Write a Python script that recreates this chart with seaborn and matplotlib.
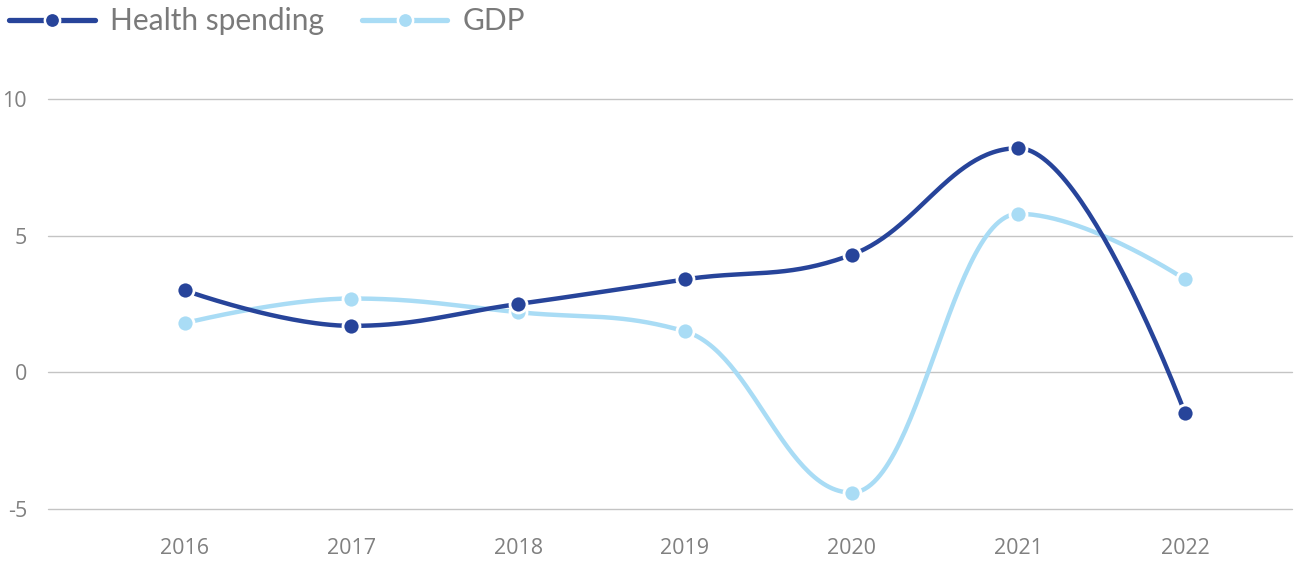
import matplotlib.pyplot as plt
from matplotlib.lines import Line2D
import seaborn as sns
import numpy as np
import pandas as pd

# 데이터
years = ["2016", "2017", "2018", "2019", "2020", "2021", "2022"]
health = [3.0, 1.7, 2.5, 3.4, 4.3, 8.2, -1.5]
gdp = [1.8, 2.7, 2.2, 1.5, -4.4, 5.8, 3.4]

dark = "#27449a"
light = "#a9dcf5"
grey = "#7a7a7a"


def spline(ys, steps=60):
    # Highcharts 식 스플라인 (smoothing 1.5)
    xs = list(range(len(ys)))
    n = len(ys)
    right = [None] * n
    left = [None] * n
    for i in range(1, n - 1):
        x, y = xs[i], ys[i]
        lx, ly = xs[i - 1], ys[i - 1]
        nx, ny = xs[i + 1], ys[i + 1]
        lcx, lcy = (1.5 * x + lx) / 2.5, (1.5 * y + ly) / 2.5
        rcx, rcy = (1.5 * x + nx) / 2.5, (1.5 * y + ny) / 2.5
        corr = (rcy - lcy) * (rcx - x) / (rcx - lcx) + y - rcy
        lcy += corr
        rcy += corr
        if lcy > ly and lcy > y:
            lcy = max(ly, y)
            rcy = 2 * y - lcy
        elif lcy < ly and lcy < y:
            lcy = min(ly, y)
            rcy = 2 * y - lcy
        if rcy > ny and rcy > y:
            rcy = max(ny, y)
            lcy = 2 * y - rcy
        elif rcy < ny and rcy < y:
            rcy = min(ny, y)
            lcy = 2 * y - rcy
        left[i] = (lcx, lcy)
        right[i] = (rcx, rcy)
    px, py = [], []
    t = np.linspace(0, 1, steps)
    for i in range(1, n):
        p0 = (xs[i - 1], ys[i - 1])
        p1 = right[i - 1] or p0
        p3 = (xs[i], ys[i])
        p2 = left[i] or p3
        bx = (1 - t) ** 3 * p0[0] + 3 * (1 - t) ** 2 * t * p1[0] + 3 * (1 - t) * t ** 2 * p2[0] + t ** 3 * p3[0]
        by = (1 - t) ** 3 * p0[1] + 3 * (1 - t) ** 2 * t * p1[1] + 3 * (1 - t) * t ** 2 * p2[1] + t ** 3 * p3[1]
        px.extend(bx)
        py.extend(by)
    return px, py


sns.set_style("white")
plt.rcParams['font.family'] = ['Lato', 'DejaVu Sans']
plt.rcParams['axes.unicode_minus'] = False

fig = plt.figure(figsize=(12.97, 5.64), dpi=100)
ax = fig.add_axes([0.037, 0.0975, 0.959, 0.727])

pts = pd.DataFrame({"x": range(len(years)), "health": health, "gdp": gdp})

for col, c, z in [("gdp", light, 2), ("health", dark, 3)]:
    cx, cy = spline(list(pts[col]))
    curve = pd.DataFrame({"x": cx, "y": cy})
    sns.lineplot(data=curve, x="x", y="y", sort=False, color=c, lw=3.2,
                 ax=ax, zorder=z, clip_on=False, estimator=None)
    sns.scatterplot(data=pts, x="x", y=col, color=c, s=150, edgecolor="white",
                    linewidth=2, ax=ax, zorder=z + 0.5, clip_on=False)

ax.set_xlim(-0.82, 6.64)
ax.set_ylim(-5, 10)
ax.set_yticks([-5, 0, 5, 10])
ax.set_xticks(range(len(years)))
ax.set_xticklabels(years)
ax.grid(axis="y", color="#c4c4c4", lw=1)
ax.grid(axis="x", visible=False)
for gl in ax.get_ygridlines():
    gl.set_clip_on(False)
for s in ax.spines.values():
    s.set_visible(False)
ax.tick_params(axis="both", length=0, labelsize=15.5, labelcolor="#808080")
ax.tick_params(axis="y", pad=15)
ax.tick_params(axis="x", pad=21)
for lab in ax.get_xticklabels() + ax.get_yticklabels():
    lab.set_fontfamily(["Open Sans", "DejaVu Sans"])
ax.set_xlabel("")
ax.set_ylabel("")

handles = [
    Line2D([], [], color=dark, lw=3.8, marker="o", markersize=11,
           markeredgecolor="white", markeredgewidth=1.8),
    Line2D([], [], color=light, lw=3.8, marker="o", markersize=11,
           markeredgecolor="white", markeredgewidth=1.8),
]
leg = fig.legend(handles, ["Health spending", "GDP"], loc="upper left",
                 bbox_to_anchor=(0.005, 0.992), borderaxespad=0.0, borderpad=0.1,
                 ncol=2, frameon=False,
                 fontsize=21.5, handlelength=2.85, handletextpad=0.5,
                 columnspacing=1.3)
for t in leg.get_texts():
    t.set_color(grey)

fig.savefig("out.png", dpi=100)
